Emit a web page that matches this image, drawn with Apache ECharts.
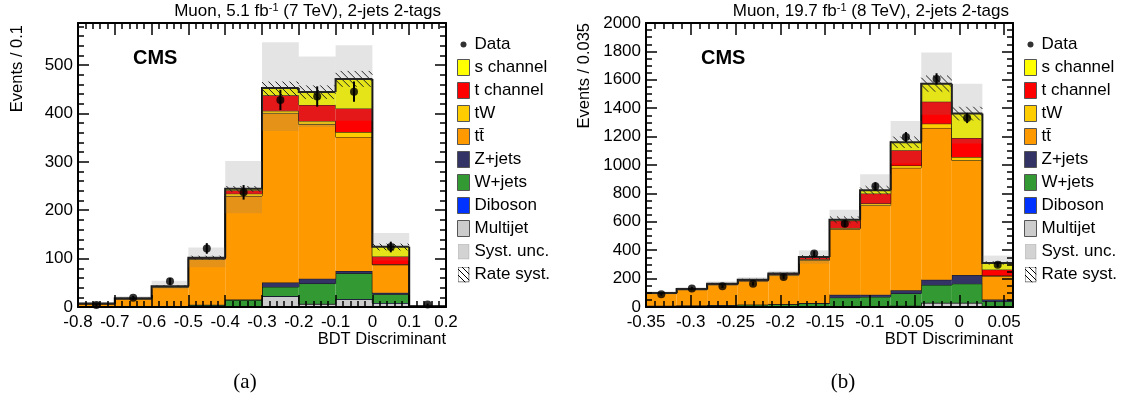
<!DOCTYPE html>
<html>
<head>
<meta charset="utf-8">
<script src="https://cdn.jsdelivr.net/npm/echarts@6/dist/echarts.min.js"></script>
<style>
html, body { margin: 0; padding: 0; background: #fff; }
#chart { width: 1124px; height: 409px; }
</style>
</head>
<body>
<div id="chart"></div>
<script>
// ---- data (a): muon, 7 TeV ----
var leftEdges = [-0.8, -0.7, -0.6, -0.5, -0.4, -0.3, -0.2, -0.1, 0, 0.1, 0.2];
var leftMultijet = [0, 0, 0.5, 1, 2, 22, 6, 16, 8, 0.5];
var leftDiboson = [0, 0, 0, 0, 0.3, 0.5, 0.5, 0.5, 0.3, 0];
var leftWjets = [0.5, 0.5, 1, 3, 12, 19, 42, 53, 18, 0.3];
var leftZjets = [0, 0, 0, 0.5, 1, 9, 10, 5, 3, 0];
var leftTT = [6, 16, 39, 94, 214, 350, 319, 277, 58, 0.5];
var leftTW = [0.3, 0.5, 1, 1.5, 5, 5, 7, 10, 1, 0];
var leftTch = [0.3, 0.5, 1, 1.5, 7, 32, 33, 49, 16, 0.2];
var leftSch = [0.2, 0.5, 0.5, 0.5, 3, 15, 27, 61, 20, 0.3];
var leftData = [4, 19, 53, 121, 237, 428, 435, 445, 124, 5];
var leftErr = [2, 4, 7, 11, 15, 21, 21, 21, 11, 2];
var leftSystUp = [9, 22, 54, 123, 302, 547, 518, 541, 153, 3];
var leftSystDn = [6, 15, 36, 82, 194, 364, 372, 385, 96, 1];
var leftRateUp = [8, 19, 45, 106, 250, 466, 458, 488, 131, 2];
var leftRateDn = [7, 17, 41, 98, 238, 436, 430, 455, 117, 1];

// ---- data (b): muon, 8 TeV ----
var rightEdges = [-0.35, -0.3158, -0.2817, -0.2475, -0.2133, -0.1792, -0.145, -0.1108, -0.0767, -0.0425, -0.0083, 0.0258, 0.06];
var rightMultijet = [2, 2, 2, 3, 3, 4, 5, 5, 8, 28, 28, 5];
var rightDiboson = [0, 0, 0, 0, 0.5, 0.5, 1, 1, 1, 2, 2, 0.5];
var rightWjets = [6, 8, 10, 12, 14, 20, 60, 65, 86, 125, 134, 33];
var rightZjets = [1, 1, 2, 2, 3, 4, 20, 15, 23, 37, 61, 14];
var rightTT = [86, 111, 143, 166, 203, 300, 463, 629, 862, 1069, 808, 164];
var rightTW = [2, 3, 4, 5, 6, 8, 7, 14, 16, 30, 23, 5];
var rightTch = [1, 1, 2, 3, 4, 12, 52, 70, 108, 155, 134, 42];
var rightSch = [1, 1, 1, 1, 2, 4, 7, 24, 57, 127, 172, 47];
var rightData = [89, 131, 146, 164, 211, 376, 587, 850, 1197, 1606, 1331, 298];
var rightErr = [9, 11, 12, 13, 15, 19, 24, 29, 35, 40, 36, 17];
var rightSystUp = [110, 140, 180, 210, 255, 399, 685, 934, 1310, 1793, 1573, 362];
var rightSystDn = [88, 114, 148, 174, 215, 305, 545, 710, 1010, 1353, 1151, 258];
var rightRateUp = [103, 132, 170, 199, 243, 365, 638, 852, 1200, 1630, 1410, 322];
var rightRateDn = [95, 122, 158, 185, 227, 339, 592, 792, 1120, 1516, 1314, 298];

var compNames = ['Multijet', 'Diboson', 'W+jets', 'Z+jets', 'tt\u0304', 'tW', 't channel', 's channel'];
var compColors = ['#cccccc', '#0033ff', '#339933', '#333366', '#ff9900', '#ffcc00', '#ff0000', '#ffff00'];
var FONT = '"Liberation Sans", Arial, sans-serif';

function svgIcon(svg) {
    return 'image://data:image/svg+xml;charset=utf-8,' + encodeURIComponent(svg);
}
var dotIcon = svgIcon("<svg xmlns='http://www.w3.org/2000/svg' width='12' height='16'><circle cx='6' cy='8' r='3' fill='#000'/></svg>");
var systIcon = svgIcon("<svg xmlns='http://www.w3.org/2000/svg' width='12' height='16'><defs><pattern id='p' width='2' height='2' patternUnits='userSpaceOnUse'><rect width='1' height='1' fill='#777'/></pattern></defs><rect x='0.5' y='0.5' width='11' height='15' fill='#f2f2f2'/><rect x='0.5' y='0.5' width='11' height='15' fill='url(#p)' stroke='#bbb'/></svg>");
var rateIcon = svgIcon("<svg xmlns='http://www.w3.org/2000/svg' width='12' height='16'><rect x='0.5' y='0.5' width='11' height='15' fill='#fff' stroke='#555'/><path d='M0 2 L12 14 M0 8 L8 16 M4 0 L12 8 M10 0 L12 2' stroke='#000' stroke-width='1'/></svg>");

// stacked boxes: [x0, x1, bottom, top, previous bin top]
function buildLayers(edges, comps) {
    var base = comps[0].map(function () { return 0; });
    return comps.map(function (vals) {
        var items = vals.map(function (v, i) {
            var prev = i > 0 ? base[i - 1] + vals[i - 1] : 0;
            return [edges[i], edges[i + 1], base[i], base[i] + v, prev];
        });
        vals.forEach(function (v, i) { base[i] += v; });
        return items;
    });
}

function boxRenderer(fill, lineW) {
    return function (params, api) {
        var p0 = api.coord([api.value(0), api.value(3)]);
        var p1 = api.coord([api.value(1), api.value(2)]);
        var pp = api.coord([api.value(0), api.value(4)]);
        return {
            type: 'group',
            children: [{
                type: 'rect',
                shape: {x: p0[0], y: p0[1], width: p1[0] - p0[0], height: p1[1] - p0[1]},
                style: {fill: fill}
            }, {
                type: 'polyline',
                shape: {points: [[p0[0], pp[1]], [p0[0], p0[1]], [p1[0], p0[1]]]},
                style: {stroke: '#111', lineWidth: lineW, fill: null}
            }]
        };
    };
}

// light grey veil for the systematic band
function systRenderer(params, api) {
    var p0 = api.coord([api.value(0), api.value(3)]);
    var p1 = api.coord([api.value(1), api.value(2)]);
    return {
        type: 'rect',
        shape: {x: p0[0], y: p0[1], width: p1[0] - p0[0], height: p1[1] - p0[1]},
        style: {fill: 'rgba(120,120,120,0.2)'}
    };
}

// diagonal hatching for the rate band
function hatchRenderer(params, api) {
    var p0 = api.coord([api.value(0), api.value(3)]);
    var p1 = api.coord([api.value(1), api.value(2)]);
    var x0 = p0[0], y0 = p0[1], w = p1[0] - p0[0], h = p1[1] - p0[1];
    var kids = [];
    for (var c = -h; c < w; c += 7) {
        var t0 = Math.max(0, -c), t1 = Math.min(h, w - c);
        if (t1 > t0) {
            kids.push({
                type: 'line',
                shape: {x1: x0 + c + t0, y1: y0 + t0, x2: x0 + c + t1, y2: y0 + t1},
                style: {stroke: '#222', lineWidth: 1}
            });
        }
    }
    return {type: 'group', children: kids};
}

function errRenderer(params, api) {
    var a = api.coord([api.value(0), api.value(1) - api.value(2)]);
    var b = api.coord([api.value(0), api.value(1) + api.value(2)]);
    return {
        type: 'line',
        shape: {x1: a[0], y1: a[1], x2: b[0], y2: b[1]},
        style: {stroke: '#000', lineWidth: 2}
    };
}

function panelSeries(xi, yi, edges, comps, data, err, systUp, systDn, rateUp, rateDn) {
    var list = [];
    var layers = buildLayers(edges, comps);
    layers.forEach(function (items, j) {
        list.push({
            type: 'custom', name: compNames[j], xAxisIndex: xi, yAxisIndex: yi,
            clip: true, z: 2, silent: true,
            itemStyle: {color: compColors[j]},
            renderItem: boxRenderer(compColors[j], j === layers.length - 1 ? 2 : 1),
            data: items
        });
    });
    var bins = data.map(function (d, i) { return i; });
    list.push({
        type: 'custom', name: 'Syst. unc.', xAxisIndex: xi, yAxisIndex: yi, clip: true, z: 3, silent: true,
        itemStyle: {color: '#dddddd'},
        renderItem: systRenderer,
        data: bins.map(function (i) { return [edges[i], edges[i + 1], systDn[i], systUp[i]]; })
    });
    list.push({
        type: 'custom', name: 'Rate syst.', xAxisIndex: xi, yAxisIndex: yi, clip: true, z: 4, silent: true,
        itemStyle: {color: '#888888'},
        renderItem: hatchRenderer,
        data: bins.map(function (i) { return [edges[i], edges[i + 1], rateDn[i], rateUp[i]]; })
    });
    list.push({
        type: 'custom', name: 'Data err', xAxisIndex: xi, yAxisIndex: yi, clip: true, z: 5, silent: true,
        renderItem: errRenderer,
        data: bins.map(function (i) { return [(edges[i] + edges[i + 1]) / 2, data[i], err[i]]; })
    });
    list.push({
        type: 'scatter', name: 'Data', xAxisIndex: xi, yAxisIndex: yi, z: 6, silent: true,
        symbol: 'circle', symbolSize: 8, itemStyle: {color: '#000'},
        data: bins.map(function (i) { return [(edges[i] + edges[i + 1]) / 2, data[i]]; })
    });
    return list;
}

function axisCfg(kind, grid, pos, min, max, interval, minorSplit, labels, showMax) {
    return {
        type: 'value', gridIndex: grid, position: pos, min: min, max: max, interval: interval, z: 10,
        axisLine: {show: true, onZero: false, lineStyle: {color: '#000', width: 2}},
        axisTick: {show: true, inside: true, length: kind === 'x' ? 12 : 11, lineStyle: {color: '#000', width: 1.5}},
        minorTick: {show: true, splitNumber: minorSplit, length: 6, lineStyle: {color: '#000', width: 1.5}},
        splitLine: {show: false},
        axisLabel: {
            show: labels, color: '#000', fontSize: 17, fontFamily: FONT,
            margin: kind === 'x' ? 7 : 5, showMaxLabel: showMax,
            formatter: function (v) { return String(Math.round(v * 1000) / 1000); }
        }
    };
}

function legendCfg(left) {
    return {
        orient: 'vertical', left: left, top: 31, itemWidth: 12, itemHeight: 16, itemGap: 6,
        selectedMode: false,
        textStyle: {color: '#000', fontSize: 17, fontFamily: FONT},
        data: [
            {name: 'Data', icon: dotIcon},
            {name: 's channel', icon: 'rect', itemStyle: {borderColor: '#555', borderWidth: 1}},
            {name: 't channel', icon: 'rect', itemStyle: {borderColor: '#555', borderWidth: 1}},
            {name: 'tW', icon: 'rect', itemStyle: {borderColor: '#555', borderWidth: 1}},
            {name: 'tt\u0304', icon: 'rect', itemStyle: {borderColor: '#555', borderWidth: 1}},
            {name: 'Z+jets', icon: 'rect', itemStyle: {borderColor: '#555', borderWidth: 1}},
            {name: 'W+jets', icon: 'rect', itemStyle: {borderColor: '#555', borderWidth: 1}},
            {name: 'Diboson', icon: 'rect', itemStyle: {borderColor: '#555', borderWidth: 1}},
            {name: 'Multijet', icon: 'rect', itemStyle: {borderColor: '#555', borderWidth: 1}},
            {name: 'Syst. unc.', icon: systIcon},
            {name: 'Rate syst.', icon: rateIcon}
        ]
    };
}

function topTitle(x, lumi, energy) {
    return {
        type: 'text', right: x, top: 2,
        style: {
            text: '{a|Muon, ' + lumi + ' fb}{s|-1}{a| (' + energy + '), 2-jets 2-tags}',
            rich: {
                a: {fontSize: 17, fontFamily: FONT, fill: '#000'},
                s: {fontSize: 11, fontFamily: FONT, fill: '#000', verticalAlign: 'top', padding: [0, 0, 8, 0]}
            }
        }
    };
}

var chart = echarts.init(document.getElementById('chart'));

var series = []
    .concat(panelSeries(0, 0, leftEdges,
        [leftMultijet, leftDiboson, leftWjets, leftZjets, leftTT, leftTW, leftTch, leftSch],
        leftData, leftErr, leftSystUp, leftSystDn, leftRateUp, leftRateDn))
    .concat(panelSeries(2, 2, rightEdges,
        [rightMultijet, rightDiboson, rightWjets, rightZjets, rightTT, rightTW, rightTch, rightSch],
        rightData, rightErr, rightSystUp, rightSystDn, rightRateUp, rightRateDn));

chart.setOption({
    animation: false,
    backgroundColor: '#fff',
    grid: [
        {left: 78, top: 23, width: 368, height: 284, show: false},
        {left: 646, top: 23, width: 367, height: 284, show: false}
    ],
    xAxis: [
        axisCfg('x', 0, 'bottom', -0.8, 0.2, 0.1, 5, true, true),
        axisCfg('x', 0, 'top', -0.8, 0.2, 0.1, 5, false, true),
        axisCfg('x', 1, 'bottom', -0.35, 0.06, 0.05, 5, true, false),
        axisCfg('x', 1, 'top', -0.35, 0.06, 0.05, 5, false, false)
    ],
    yAxis: [
        axisCfg('y', 0, 'left', 0, 587, 100, 5, true, false),
        axisCfg('y', 0, 'right', 0, 587, 100, 5, false, false),
        axisCfg('y', 1, 'left', 0, 2000, 200, 4, true, true),
        axisCfg('y', 1, 'right', 0, 2000, 200, 4, false, true)
    ],
    legend: [legendCfg(452), legendCfg(1019)],
    graphic: [
        topTitle(1124 - 441, '5.1', '7 TeV'),
        topTitle(1124 - 1009, '19.7', '8 TeV'),
        {type: 'text', x: 133, y: 58, style: {text: 'CMS', font: 'bold 20px ' + FONT, fill: '#000', textVerticalAlign: 'middle'}},
        {type: 'text', x: 701, y: 58, style: {text: 'CMS', font: 'bold 20px ' + FONT, fill: '#000', textVerticalAlign: 'middle'}},
        {type: 'text', x: 17, y: 25, rotation: Math.PI / 2, style: {text: 'Events / 0.1', font: '16.5px ' + FONT, fill: '#000', textAlign: 'right', textVerticalAlign: 'middle'}},
        {type: 'text', x: 584, y: 23, rotation: Math.PI / 2, style: {text: 'Events / 0.035', font: '16.5px ' + FONT, fill: '#000', textAlign: 'right', textVerticalAlign: 'middle'}},
        {type: 'text', x: 446, y: 339, style: {text: 'BDT Discriminant', font: '16.5px ' + FONT, fill: '#000', textAlign: 'right', textVerticalAlign: 'middle'}},
        {type: 'text', x: 1013, y: 339, style: {text: 'BDT Discriminant', font: '16.5px ' + FONT, fill: '#000', textAlign: 'right', textVerticalAlign: 'middle'}},
        {type: 'text', x: 245, y: 382, style: {text: '(a)', font: '21px "Liberation Serif", "Times New Roman", serif', fill: '#000', textAlign: 'center', textVerticalAlign: 'middle'}},
        {type: 'text', x: 843, y: 382, style: {text: '(b)', font: '21px "Liberation Serif", "Times New Roman", serif', fill: '#000', textAlign: 'center', textVerticalAlign: 'middle'}}
    ],
    series: series
});
</script>
</body>
</html>
